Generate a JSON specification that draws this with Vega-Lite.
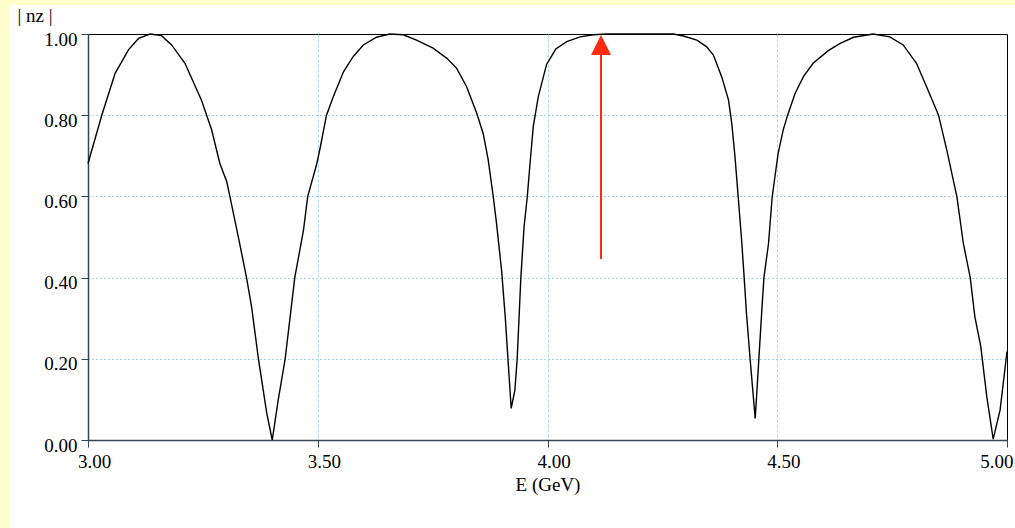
{
  "$schema": "https://vega.github.io/schema/vega-lite/v6.json",
  "width": 919,
  "height": 406,
  "autosize": {"type": "none"},
  "padding": {"left": 88, "top": 34, "right": 8, "bottom": 88},
  "background": "#ffffff",
  "config": {"view": {"stroke": "#000000", "strokeWidth": 1}, "font": "Liberation Serif"},
  "datasets": {
    "curve": [
      {"E": 3.000, "nz": 0.681}, {"E": 3.030, "nz": 0.800}, {"E": 3.059, "nz": 0.903}, {"E": 3.088, "nz": 0.961},
      {"E": 3.110, "nz": 0.989}, {"E": 3.135, "nz": 1.000}, {"E": 3.160, "nz": 0.996}, {"E": 3.182, "nz": 0.973},
      {"E": 3.211, "nz": 0.928}, {"E": 3.247, "nz": 0.837}, {"E": 3.269, "nz": 0.764}, {"E": 3.287, "nz": 0.681},
      {"E": 3.302, "nz": 0.636}, {"E": 3.309, "nz": 0.599}, {"E": 3.327, "nz": 0.501}, {"E": 3.345, "nz": 0.400},
      {"E": 3.356, "nz": 0.328}, {"E": 3.371, "nz": 0.199}, {"E": 3.389, "nz": 0.066}, {"E": 3.401, "nz": 0.000},
      {"E": 3.414, "nz": 0.099}, {"E": 3.429, "nz": 0.199}, {"E": 3.450, "nz": 0.400}, {"E": 3.469, "nz": 0.517},
      {"E": 3.478, "nz": 0.599}, {"E": 3.498, "nz": 0.681}, {"E": 3.505, "nz": 0.718}, {"E": 3.519, "nz": 0.800},
      {"E": 3.534, "nz": 0.846}, {"E": 3.556, "nz": 0.907}, {"E": 3.577, "nz": 0.944}, {"E": 3.599, "nz": 0.973},
      {"E": 3.628, "nz": 0.992}, {"E": 3.657, "nz": 1.000}, {"E": 3.686, "nz": 0.998}, {"E": 3.715, "nz": 0.985},
      {"E": 3.751, "nz": 0.965}, {"E": 3.781, "nz": 0.940}, {"E": 3.802, "nz": 0.916}, {"E": 3.824, "nz": 0.870},
      {"E": 3.846, "nz": 0.805}, {"E": 3.860, "nz": 0.755}, {"E": 3.871, "nz": 0.690}, {"E": 3.882, "nz": 0.599},
      {"E": 3.889, "nz": 0.534}, {"E": 3.900, "nz": 0.419}, {"E": 3.908, "nz": 0.304}, {"E": 3.915, "nz": 0.181},
      {"E": 3.921, "nz": 0.078}, {"E": 3.929, "nz": 0.123}, {"E": 3.934, "nz": 0.199}, {"E": 3.942, "nz": 0.400},
      {"E": 3.949, "nz": 0.525}, {"E": 3.956, "nz": 0.599}, {"E": 3.962, "nz": 0.681}, {"E": 3.969, "nz": 0.772},
      {"E": 3.980, "nz": 0.846}, {"E": 3.998, "nz": 0.925}, {"E": 4.018, "nz": 0.963}, {"E": 4.042, "nz": 0.981},
      {"E": 4.071, "nz": 0.993}, {"E": 4.100, "nz": 0.998}, {"E": 4.130, "nz": 1.000}, {"E": 4.274, "nz": 1.000},
      {"E": 4.296, "nz": 0.995}, {"E": 4.325, "nz": 0.985}, {"E": 4.346, "nz": 0.969}, {"E": 4.361, "nz": 0.948},
      {"E": 4.379, "nz": 0.895}, {"E": 4.394, "nz": 0.837}, {"E": 4.401, "nz": 0.780}, {"E": 4.408, "nz": 0.698},
      {"E": 4.415, "nz": 0.599}, {"E": 4.423, "nz": 0.484}, {"E": 4.428, "nz": 0.400}, {"E": 4.433, "nz": 0.312},
      {"E": 4.441, "nz": 0.199}, {"E": 4.452, "nz": 0.053}, {"E": 4.459, "nz": 0.181}, {"E": 4.466, "nz": 0.312},
      {"E": 4.471, "nz": 0.400}, {"E": 4.481, "nz": 0.484}, {"E": 4.489, "nz": 0.599}, {"E": 4.495, "nz": 0.649},
      {"E": 4.502, "nz": 0.706}, {"E": 4.513, "nz": 0.764}, {"E": 4.524, "nz": 0.805}, {"E": 4.539, "nz": 0.854},
      {"E": 4.557, "nz": 0.895}, {"E": 4.578, "nz": 0.928}, {"E": 4.611, "nz": 0.959}, {"E": 4.637, "nz": 0.977},
      {"E": 4.666, "nz": 0.992}, {"E": 4.709, "nz": 1.000}, {"E": 4.745, "nz": 0.993}, {"E": 4.774, "nz": 0.973},
      {"E": 4.803, "nz": 0.928}, {"E": 4.825, "nz": 0.870}, {"E": 4.851, "nz": 0.800}, {"E": 4.869, "nz": 0.714},
      {"E": 4.891, "nz": 0.599}, {"E": 4.905, "nz": 0.484}, {"E": 4.920, "nz": 0.400}, {"E": 4.930, "nz": 0.304},
      {"E": 4.943, "nz": 0.230}, {"E": 4.956, "nz": 0.107}, {"E": 4.970, "nz": 0.002}, {"E": 4.985, "nz": 0.074},
      {"E": 5.000, "nz": 0.218}
    ],
    "arrow": [{"E": 4.1164, "nz": 0.446, "hi": 0.95, "tip": 0.973}],
    "one": [{"k": 1}]
  },
  "layer": [
    {
      "data": {"name": "curve"},
      "mark": {"type": "line", "color": "#000000", "strokeWidth": 1.4},
      "encoding": {
        "x": {
          "field": "E", "type": "quantitative",
          "scale": {"domain": [3, 5], "nice": false, "zero": false},
          "axis": {
            "values": [3, 3.5, 4, 4.5, 5], "format": ".2f",
            "title": "E (GeV)", "titleFontSize": 19, "titleFontWeight": "normal", "titleColor": "#000000",
            "titleBaseline": "alphabetic", "titleY": 50,
            "labelFontSize": 19, "labelColor": "#000000", "labelBaseline": "alphabetic", "labelPadding": 20,
            "labelOffset": 6, "labelAlign": {"condition": {"test": "datum.value == 5", "value": "right"}, "value": "center"},
            "labelFlush": false, "labelBound": false, "labelOverlap": false,
            "tickSize": 7, "tickColor": "#334455", "domainColor": "#334455", "domainWidth": 1.5,
            "grid": true, "gridColor": "#a8d8f2", "gridDash": [3, 2], "gridWidth": 1,
            "gridOpacity": {"condition": {"test": "datum.value == 3 || datum.value == 5", "value": 0}, "value": 1}
          }
        },
        "y": {
          "field": "nz", "type": "quantitative",
          "scale": {"domain": [0, 1], "nice": false, "zero": false},
          "axis": {
            "values": [0, 0.2, 0.4, 0.6, 0.8, 1.0], "format": ".2f",
            "title": "| nz |", "titleAngle": 0, "titleAlign": "left", "titleBaseline": "alphabetic",
            "titleX": -71, "titleY": -12.5, "titleFontSize": 19, "titleFontWeight": "normal", "titleColor": "#000000",
            "labelFontSize": 19, "labelColor": "#000000", "labelBaseline": "alphabetic", "labelOffset": 11, "labelPadding": 4,
            "labelFlush": false, "labelBound": false, "labelOverlap": false,
            "tickSize": 7, "tickColor": "#334455", "domainColor": "#334455", "domainWidth": 1.5,
            "grid": true, "gridColor": "#4aa8e0", "gridDash": [1, 3], "gridWidth": 1,
            "gridOpacity": {"condition": {"test": "datum.value == 0 || datum.value == 1", "value": 0}, "value": 1}
          }
        }
      }
    },
    {
      "data": {"name": "one"},
      "mark": {"type": "rect", "color": "#FFFFCC"},
      "encoding": {
        "x": {"datum": 2.8085, "type": "quantitative", "scale": {"domain": [3, 5], "nice": false, "zero": false}},
        "x2": {"datum": 2.8281},
        "y": {"datum": 1.0837, "type": "quantitative", "scale": {"domain": [0, 1], "nice": false, "zero": false}},
        "y2": {"datum": -0.2167}
      }
    },
    {
      "data": {"name": "one"},
      "mark": {"type": "rect", "color": "#FFFFCC"},
      "encoding": {
        "x": {"datum": 2.8085, "type": "quantitative", "scale": {"domain": [3, 5], "nice": false, "zero": false}},
        "x2": {"datum": 5.0174},
        "y": {"datum": 1.0837, "type": "quantitative", "scale": {"domain": [0, 1], "nice": false, "zero": false}},
        "y2": {"datum": 1.0714}
      }
    },
    {
      "data": {"name": "arrow"},
      "mark": {"type": "rule", "color": "#ff2a10", "strokeWidth": 2},
      "encoding": {
        "x": {"field": "E", "type": "quantitative", "scale": {"domain": [3, 5], "nice": false, "zero": false}},
        "y": {"field": "nz", "type": "quantitative", "scale": {"domain": [0, 1], "nice": false, "zero": false}},
        "y2": {"field": "hi"}
      }
    },
    {
      "data": {"name": "arrow"},
      "mark": {"type": "point", "shape": "M0,-1L1,1L-1,1Z", "size": 400, "filled": true, "color": "#ff2a10", "opacity": 1, "strokeWidth": 0},
      "encoding": {
        "x": {"field": "E", "type": "quantitative", "scale": {"domain": [3, 5], "nice": false, "zero": false}},
        "y": {"field": "tip", "type": "quantitative", "scale": {"domain": [0, 1], "nice": false, "zero": false}}
      }
    }
  ]
}
